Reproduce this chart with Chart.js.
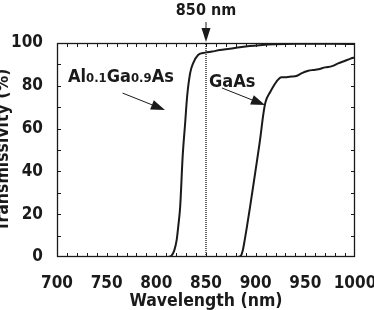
<!DOCTYPE html>
<html>
<head>
<meta charset="utf-8">
<script src="https://cdn.jsdelivr.net/npm/chart.js@4.4.1/dist/chart.umd.min.js"></script>
<style>
  html, body { margin: 0; padding: 0; background: #fff; }
  #wrap { width: 374px; height: 310px; }
</style>
</head>
<body>
<div id="wrap"><canvas id="chart" width="374" height="310"></canvas></div>
<script>
// tick labels
const xTicks = [700, 750, 800, 850, 900, 950, 1000];
const yTicks = [0, 20, 40, 60, 80, 100];

// Al0.1Ga0.9As transmission (wavelength nm / %)
const alWave = [812, 815, 818, 820.5, 822, 824, 826.5, 829, 831, 834, 837, 842, 849, 856, 864, 874, 884, 894, 904, 920, 940, 960, 980, 1000];
const alTrans = [0, 0.5, 3, 8, 14, 23.5, 47, 62.5, 75, 85.8, 90.5, 94.4, 95.5, 96, 96.7, 97.3, 98, 98.6, 99, 99.4, 99.6, 99.6, 99.6, 99.5];

// GaAs transmission
const gaWave = [876, 882, 885, 887, 889, 891.5, 894.4, 899.4, 904.4, 907.8, 910, 914.5, 921, 926, 931, 936, 941, 946, 953, 958, 963, 970, 977, 983, 990, 995, 1000];
const gaTrans = [0, 0, 0.5, 3, 8, 15, 23.5, 39, 54.7, 67, 72.5, 77, 82, 84, 84, 84.3, 84.6, 85.8, 87, 87.4, 87.7, 88.6, 89.2, 90.5, 91.7, 92.6, 93.3];

// 850 nm marker
const markWave = [850, 850];
const markTrans = [0, 100];

const toXY = (xs, ys) => xs.map((x, i) => ({ x: x, y: ys[i] }));

const FONT = "'DejaVu Sans Condensed', 'DejaVu Sans', sans-serif";
const INK = '#1a1a1a';

// box, inward minor ticks, arrows and labels
const decor = {
  id: 'decor',
  afterDraw(chart) {
    const { ctx, chartArea: a, scales } = chart;
    const xs = scales.x, ys = scales.y;
    ctx.save();
    ctx.strokeStyle = INK;
    ctx.lineWidth = 1;
    // minor ticks every 10
    ctx.beginPath();
    for (let v = 710; v < 1000; v += 10) {
      const px = Math.round(xs.getPixelForValue(v)) + 0.5;
      ctx.moveTo(px, a.bottom); ctx.lineTo(px, a.bottom - 4);
      ctx.moveTo(px, a.top); ctx.lineTo(px, a.top + 4);
    }
    for (let v = 10; v < 100; v += 10) {
      const py = Math.round(ys.getPixelForValue(v)) + 0.5;
      ctx.moveTo(a.left, py); ctx.lineTo(a.left + 4, py);
      ctx.moveTo(a.right, py); ctx.lineTo(a.right - 4, py);
    }
    ctx.stroke();
    ctx.lineWidth = 1.3;
    ctx.strokeRect(a.left + 0.5, a.top + 0.5, a.right - a.left - 1, a.bottom - a.top - 1);

    // arrows
    const arrow = (x1, y1, x2, y2, head, half) => {
      const ang = Math.atan2(y2 - y1, x2 - x1);
      const bx = x2 - head * Math.cos(ang), by = y2 - head * Math.sin(ang);
      ctx.lineWidth = 1;
      ctx.beginPath(); ctx.moveTo(x1, y1); ctx.lineTo(bx, by); ctx.stroke();
      ctx.beginPath();
      ctx.moveTo(x2, y2);
      ctx.lineTo(bx + half * Math.sin(ang), by - half * Math.cos(ang));
      ctx.lineTo(bx - half * Math.sin(ang), by + half * Math.cos(ang));
      ctx.closePath();
      ctx.fillStyle = INK; ctx.fill();
    };
    const px = v => xs.getPixelForValue(v);
    const py = v => ys.getPixelForValue(v);
    arrow(px(766), py(76.6), px(808.7), py(68.7), 14, 5);
    arrow(px(866), py(79), px(909.4), py(71), 14, 5);
    arrow(px(850), a.top - 21, px(850), a.top - 1, 14, 4.5);

    // texts
    ctx.fillStyle = INK;
    ctx.textBaseline = 'alphabetic';
    ctx.textAlign = 'center';
    ctx.font = 'bold 16px ' + FONT;
    ctx.fillText('850 nm', px(850), a.top - 28);

    ctx.textAlign = 'left';
    const parts = [['Al', 18], ['0.1', 13], ['Ga', 18], ['0.9', 13], ['As', 18]];
    let tx = px(711);
    const ty = py(81.8);
    parts.forEach(([t, s]) => {
      ctx.font = 'bold ' + s + 'px ' + FONT;
      ctx.fillText(t, tx, ty);
      tx += ctx.measureText(t).width;
    });
    ctx.font = 'bold 18px ' + FONT;
    ctx.fillText('GaAs', px(853), py(79.4));
    ctx.restore();
  }
};

const zeroPad = s => { s.paddingLeft = 0; s.paddingRight = 0; s.paddingTop = 0; s.paddingBottom = 0; };

new Chart(document.getElementById('chart').getContext('2d'), {
  type: 'line',
  data: {
    datasets: [
      { data: toXY(alWave, alTrans), borderColor: INK, borderWidth: 2, pointRadius: 0, cubicInterpolationMode: 'monotone' },
      { data: toXY(gaWave, gaTrans), borderColor: INK, borderWidth: 2, pointRadius: 0, cubicInterpolationMode: 'monotone' },
      { data: toXY(markWave, markTrans), borderColor: '#333', borderWidth: 1.5, borderDash: [1, 1], pointRadius: 0 },
    ],
  },
  options: {
    responsive: false,
    animation: false,
    layout: { padding: { top: 43, right: 19, left: 0, bottom: 0 } },
    plugins: { legend: { display: false }, tooltip: { enabled: false } },
    scales: {
      x: {
        type: 'linear',
        min: 700,
        max: 1000,
        afterBuildTicks: s => { s.ticks = xTicks.map(v => ({ value: v })); },
        afterFit: s => { s.height = 53; zeroPad(s); },
        grid: { display: false },
        border: { display: false },
        ticks: {
          padding: 8, color: INK, autoSkip: false, maxRotation: 0, minRotation: 0,
          callback: v => String(v),
          font: { family: FONT, size: 17, weight: 'bold' },
        },
        title: { display: true, text: 'Wavelength (nm)', color: INK, padding: { bottom: -2 }, font: { family: FONT, size: 17.5, weight: 'bold' } },
      },
      y: {
        min: 0,
        max: 100,
        afterBuildTicks: s => { s.ticks = yTicks.map(v => ({ value: v })); },
        afterFit: s => { s.width = 57; zeroPad(s); },
        grid: { display: false },
        border: { display: false },
        ticks: { padding: 6, color: INK, font: { family: FONT, size: 17, weight: 'bold' } },
        title: { display: true, text: 'Transmissivity (%)', color: INK, padding: { top: -7 }, font: { family: FONT, size: 17.5, weight: 'bold' } },
      },
    },
  },
  plugins: [decor],
});
</script>
</body>
</html>
